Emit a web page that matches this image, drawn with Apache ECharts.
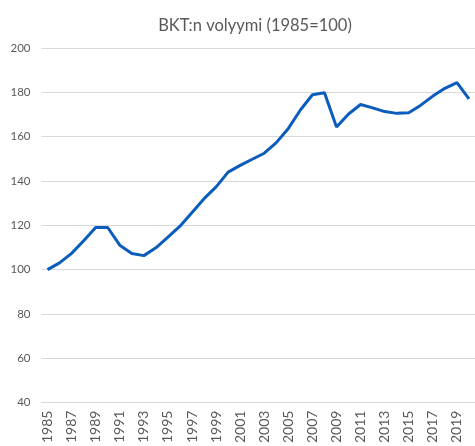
<!DOCTYPE html>
<html>
<head>
<meta charset="utf-8">
<script src="https://cdn.jsdelivr.net/npm/echarts@6/dist/echarts.min.js"></script>
<style>html,body{margin:0;padding:0;background:#fff;}#c{width:475px;height:446px;}</style>
</head>
<body>
<div id="c"></div>
<script>
const titleText = "BKT:n volyymi (1985=100)";
const years = ["1985","1986","1987","1988","1989","1990","1991","1992","1993","1994","1995","1996","1997","1998","1999","2000","2001","2002","2003","2004","2005","2006","2007","2008","2009","2010","2011","2012","2013","2014","2015","2016","2017","2018","2019","2020"];
const volume = [100,103,107.3,113,119,119,111,107.3,106.3,109.8,114.6,119.6,125.8,132,137.3,144,147,149.8,152.5,157.3,163.7,172,178.9,179.8,164.3,170.2,174.5,173,171.3,170.5,170.8,174.2,178.3,181.8,184.4,177];
const yMin = 40, yMax = 200, yStep = 20;

const chart = echarts.init(document.getElementById('c'));
chart.setOption({
  animation: false,
  backgroundColor: '#ffffff',
  title: {
    text: titleText,
    left: 250, top: 12, textAlign: 'center',
    textStyle: { fontFamily: 'Lato', fontSize: 16.5, fontWeight: 'normal', color: '#595959' }
  },
  grid: { left: 41.5, top: 48, width: 439, height: 357, containLabel: false },
  xAxis: {
    type: 'category',
    data: years,
    boundaryGap: true,
    axisLine: { show: true, lineStyle: { color: '#d9d9d9', width: 1 } },
    axisTick: { show: false },
    axisLabel: { interval: 1, rotate: 90, margin: 8, fontFamily: 'Lato', fontSize: 14, color: '#595959' }
  },
  yAxis: {
    type: 'value',
    min: yMin, max: yMax, interval: yStep,
    axisLine: { show: false },
    axisTick: { show: false },
    splitLine: { lineStyle: { color: '#d9d9d9', width: 1 } },
    axisLabel: { margin: 11, fontFamily: 'Lato', fontSize: 11.5, color: '#595959' }
  },
  series: [{
    type: 'line',
    data: volume,
    symbol: 'none',
    lineStyle: { color: '#0a5cbd', width: 3 },
    itemStyle: { color: '#0a5cbd' }
  }]
});
</script>
</body>
</html>
